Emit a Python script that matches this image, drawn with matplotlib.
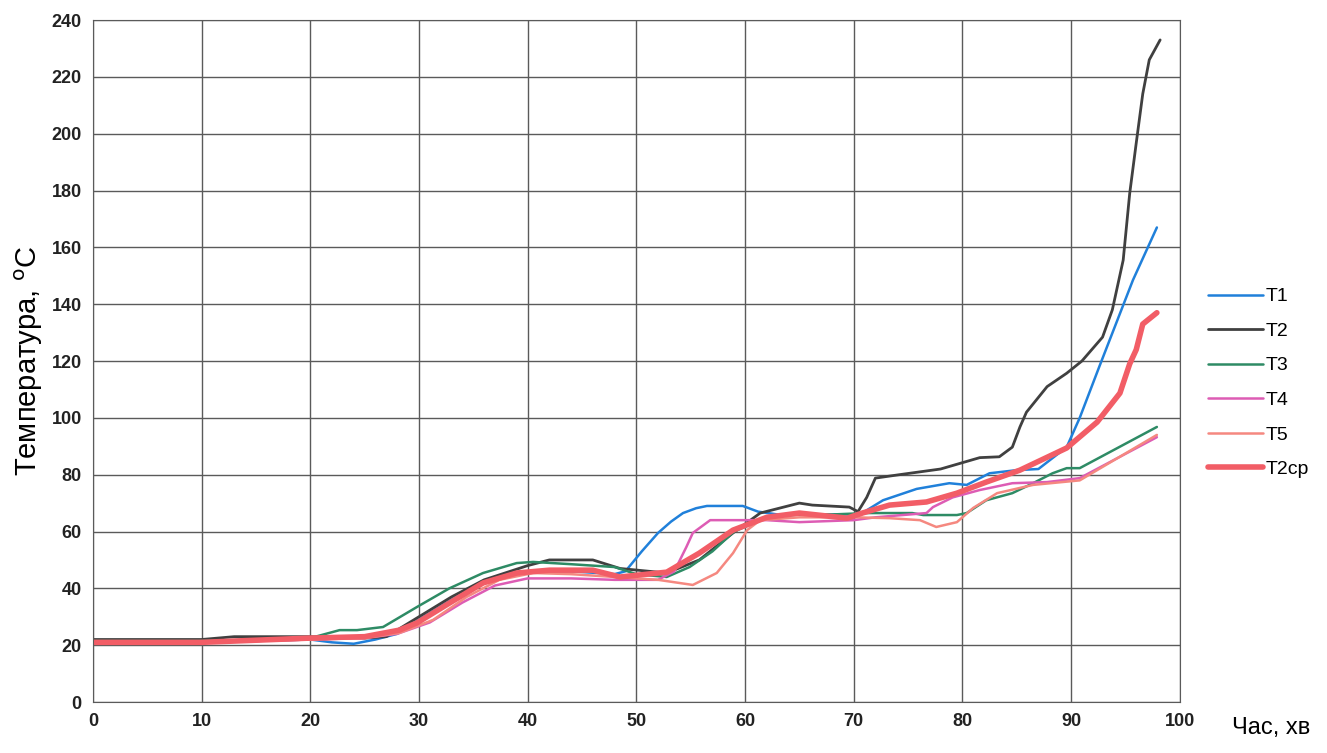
import matplotlib
matplotlib.use("Agg")
import matplotlib.pyplot as plt

plt.rcParams['font.family'] = ['Liberation Sans', 'DejaVu Sans']

# ---- data (time, min; temperature, °C) ----
t1_x = [0, 10, 20, 22, 24, 26, 28, 30, 33, 36, 40, 44, 48, 49, 50.5, 52, 53.2, 54.3, 55.5, 56.5, 59.8, 61.2, 63, 66, 70, 71, 72.7, 75.8, 78.8, 80.4, 82.5, 85, 87, 89.6, 90.8, 92.6, 95.7, 97.9]
t1_y = [21, 21, 22, 21, 20.5, 22, 24, 29, 36, 42, 46, 46, 45, 46, 53, 59.5, 63.5, 66.5, 68.2, 69, 69, 67, 66, 66, 66, 67, 71, 75, 77, 76.4, 80.5, 81.6, 82, 89.7, 100, 118, 148.5, 167]

t2_x = [0, 10, 13, 20, 25, 27, 30, 33, 36, 40, 42, 46, 48.5, 52.8, 55.8, 58.9, 61.4, 65, 66.2, 69.6, 70.4, 71.2, 72, 74.2, 76.1, 78, 79.8, 81.6, 83.4, 84.6, 85.3, 85.9, 87.8, 89.6, 91, 92.9, 93.8, 94.8, 95.4, 96, 96.6, 97.2, 98.2]
t2_y = [22, 22, 23, 23, 22.5, 23, 30, 37, 43, 48, 50, 50, 47, 45.4, 50, 59.5, 66.5, 70, 69.3, 68.6, 67, 72, 78.8, 80, 81, 82, 84, 86, 86.3, 89.7, 96.8, 102, 111, 115.7, 120, 128.4, 138, 155.5, 179, 196.7, 214, 226, 233]

t3_x = [0, 10, 20, 22.7, 24.3, 26.7, 29.8, 32.8, 35.9, 39, 40.5, 44, 48, 50, 52.8, 54.9, 57, 59, 62, 65, 68, 71.2, 75.4, 76.4, 79.5, 80.4, 82.2, 84.6, 86.5, 88.3, 89.6, 90.8, 97.9]
t3_y = [21.5, 21.5, 22.5, 25.3, 25.3, 26.4, 33.4, 40, 45.4, 48.9, 49.3, 48.5, 47.5, 45, 44, 47.5, 53, 60, 65, 66, 66, 66.5, 66.5, 65.8, 65.8, 66.5, 71, 73.5, 77, 80.5, 82.3, 82.3, 96.8]

t4_x = [0, 10, 20, 25, 28, 31, 34, 37, 40, 44, 48, 52, 53.5, 54.6, 55.2, 56.8, 62, 65, 70, 72, 76.7, 77.3, 79.1, 81.6, 84.6, 87.8, 90.8, 97.9]
t4_y = [21, 21, 22, 22.5, 24, 28, 35, 41, 43.5, 43.5, 43, 43, 46, 54.5, 59.5, 64, 64, 63.3, 64, 65, 66.5, 68.6, 72, 74.6, 77, 77.4, 78.8, 93.2]

t5_x = [0, 10, 20, 25, 28.2, 31.3, 34.4, 37.4, 40.5, 44, 48, 52, 55.2, 57.4, 58.9, 60.2, 61.4, 65, 70, 73.3, 76.1, 77.6, 79.5, 81, 83.2, 86.5, 90.8, 97.9]
t5_y = [21, 21, 22, 22.5, 24.3, 28.9, 37, 43, 45.4, 45, 44, 43, 41.2, 45.4, 52.4, 60.5, 64, 65, 65, 64.7, 64, 61.6, 63.3, 68.3, 73.5, 76.4, 78, 94]

t2cp_x = [0, 10, 20, 25, 28.2, 29.8, 32.8, 35.9, 39, 42, 46, 48.5, 52.8, 55.8, 58.9, 62, 65, 69.4, 70.8, 73.3, 76.7, 79.5, 82.2, 85.3, 89.6, 92.4, 94.5, 95.4, 96, 96.6, 97.9]
t2cp_y = [21, 21, 22.5, 23, 25.3, 27.8, 34.8, 41.9, 45.4, 46.4, 46.4, 44, 45.7, 52.4, 60.5, 65, 66.5, 64.7, 66.5, 69.3, 70.4, 73.5, 77.4, 81.6, 89.4, 98.5, 108.7, 119, 124, 133, 137]

series = [
    ("T1", t1_x, t1_y, "#2080DA", 1.8),
    ("T2", t2_x, t2_y, "#404040", 2.0),
    ("T3", t3_x, t3_y, "#2E8B65", 1.8),
    ("T4", t4_x, t4_y, "#DD5CB4", 1.8),
    ("T5", t5_x, t5_y, "#F58880", 1.8),
    ("T2cp", t2cp_x, t2cp_y, "#F25D66", 4.0),
]
legend_labels = ["T1", "T2", "T3", "T4", "T5", "T2ср"]

x_ticks = list(range(0, 101, 10))
y_ticks = list(range(0, 241, 20))

fig = plt.figure(figsize=(13.27, 7.53), dpi=100)
ax = fig.add_axes([0.070, 0.0677, 0.819, 0.9057])

handles = []
for (name, xs, ys, col, lw), lab in zip(series, legend_labels):
    h, = ax.plot(xs, ys, color=col, lw=lw, label=lab,
                 solid_capstyle='round', solid_joinstyle='round')
    handles.append(h)

ax.set_xlim(0, 100)
ax.set_ylim(0, 240)
ax.set_xticks(x_ticks)
ax.set_yticks(y_ticks)
ax.grid(True, color="#5a5a5a", lw=1.0)
ax.set_axisbelow(True)
for s in ax.spines.values():
    s.set_color("#5a5a5a")
ax.tick_params(length=0, labelsize=13, pad=8)
for lbl in ax.get_xticklabels() + ax.get_yticklabels():
    lbl.set_fontweight('bold')
    lbl.set_color('#222222')

ax.set_ylabel(r'Температура, $^{\mathrm{o}}$C', fontsize=21, labelpad=5)
fig.text(0.958, 0.033, "Час, хв", fontsize=17, ha='center', va='center')

leg = ax.legend(handles=handles, labels=legend_labels, loc='upper left',
                bbox_to_anchor=(1.01, 0.633), frameon=False, fontsize=14,
                handlelength=2.8, labelspacing=0.87, handletextpad=0.15)

fig.savefig("out.png", dpi=100)
